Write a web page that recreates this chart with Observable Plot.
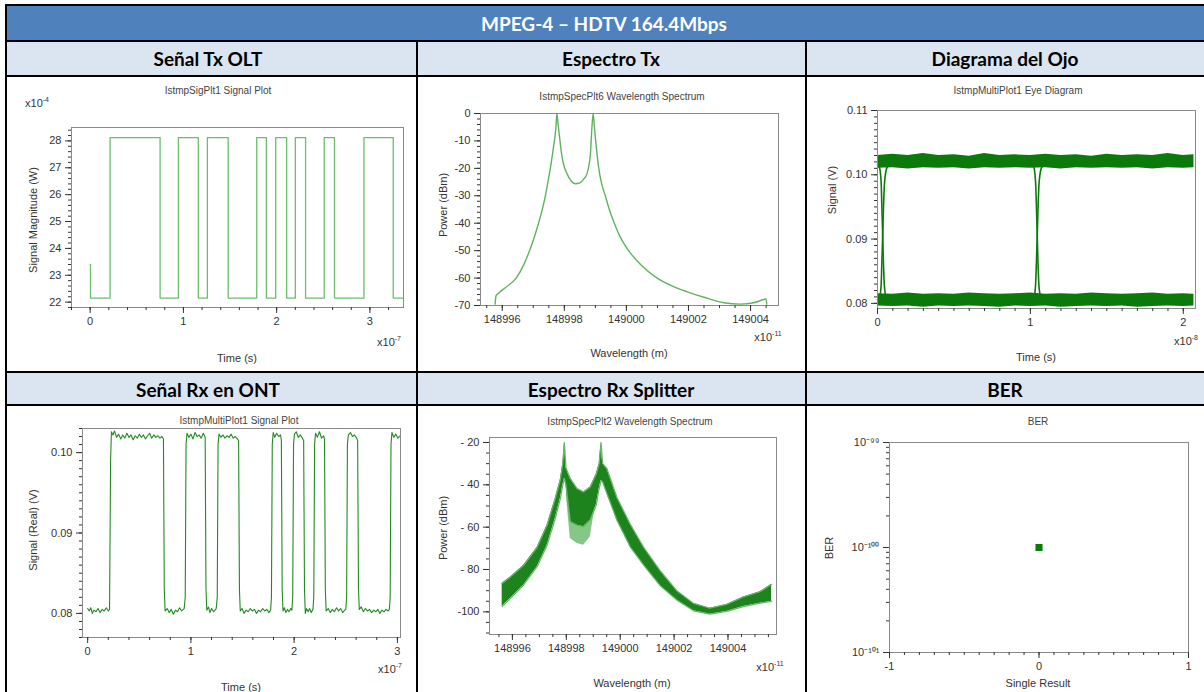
<!DOCTYPE html>
<html><head><meta charset="utf-8">
<script src="https://cdn.jsdelivr.net/npm/d3@7"></script>
<script src="https://cdn.jsdelivr.net/npm/@observablehq/plot@0.6"></script>
<style>
body{margin:0;background:#fff;}
#page{position:relative;width:1204px;height:692px;overflow:hidden;background:#fff;font-family:"Liberation Sans",Arial,sans-serif;}
.box{position:absolute;}
.ln{position:absolute;background:#000;}
.t{position:absolute;white-space:nowrap;color:#333;font-size:11px;line-height:1;}
.t sup{font-size:7px;vertical-align:5px;line-height:0;}
.ct{font-size:10px;color:#444;}
.hd{font-family:Lato,"Open Sans",sans-serif;font-weight:700;font-size:19px;color:#000;}
.ttl{font-family:Lato,"Open Sans",sans-serif;font-weight:700;font-size:19px;color:#fff;}
</style></head>
<body><div id="page"></div>
<script>
// ---------- DATA ----------
const mainTitle = "MPEG-4 – HDTV 164.4Mbps";
const headers = ["Señal Tx OLT","Espectro Tx","Diagrama del Ojo","Señal Rx en ONT","Espectro Rx Splitter","BER"];
const chartTitles = ["IstmpSigPlt1 Signal Plot","IstmpSpecPlt6 Wavelength Spectrum","IstmpMultiPlot1 Eye Diagram","IstmpMultiPlot1 Signal Plot","IstmpSpecPlt2 Wavelength Spectrum","BER"];

// Panel 1: Tx signal (time x1e-7 s, magnitude x1e-4 W), step-after
const txTime  = [0, 0.004, 0.214, 0.75, 0.946, 1.16, 1.257, 1.48, 1.786, 1.89, 1.99, 2.107, 2.2, 2.31, 2.51, 2.62, 2.936, 3.25, 3.35];
const txLevel = [23.4, 22.15, 28.12, 22.15, 28.12, 22.15, 28.12, 22.15, 28.12, 22.15, 28.12, 22.15, 28.12, 22.15, 28.12, 22.15, 28.12, 22.15, 22.15];
const txXTicks = [0, 1, 2, 3];
const txYTicks = [22, 23, 24, 25, 26, 27, 28];

// Panel 2: Tx spectrum (wavelength x1e-11 m, dBm)
const specTxWl = [148995.77,148995.80,148995.88,148996.10,148996.45,148996.70,148996.88,148997.05,148997.17,148997.30,148997.39,148997.48,148997.55,148997.63,148997.68,148997.73,148997.76,148997.80,148997.84,148997.93,148998.00,148998.09,148998.20,148998.35,148998.50,148998.62,148998.73,148998.80,148998.84,148998.89,148998.93,148998.97,148999.01,148999.11,148999.20,148999.32,148999.45,148999.61,148999.80,149000.07,149000.50,149000.99,149001.50,149001.96,149002.50,149003.14,149003.68,149004.10,149004.43,149004.50,149004.52];
const specTxDbm = [-69.5,-66.5,-65.5,-63.5,-60,-55,-50,-44.5,-40,-34.5,-30,-24.5,-20,-14,-10,-5,0,-4,-8,-16,-19.5,-22,-24.3,-25.6,-25.3,-24,-22,-18.5,-15,-5,0,-5,-10,-20,-25.5,-30,-35,-40,-45,-50,-55.5,-60,-63,-65,-67,-69,-69.5,-69,-67.8,-67.6,-69.5];
const wlTicks = [148996, 148998, 149000, 149002, 149004];
const specTxYTicks = [-70, -60, -50, -40, -30, -20, -10, 0];

// Panel 3: Eye diagram (time x1e-8 s, V)
const eyeT   = [0.00,0.10,0.20,0.30,0.40,0.50,0.60,0.70,0.80,0.90,1.00,1.10,1.20,1.30,1.40,1.50,1.60,1.70,1.80,1.90,2.00,2.07];
const eyeHiTop = [0.1030,0.1032,0.1030,0.1033,0.1030,0.1031,0.1029,0.1033,0.1030,0.1031,0.1030,0.1032,0.1030,0.1031,0.1029,0.1032,0.1030,0.1031,0.1030,0.1033,0.1030,0.1031];
const eyeHiBot = [0.1010,0.1011,0.1009,0.1011,0.1010,0.1011,0.1009,0.1011,0.1010,0.1011,0.1010,0.1011,0.1009,0.1011,0.1010,0.1011,0.1010,0.1011,0.1009,0.1011,0.1010,0.1011];
const eyeLoTop = [0.0815,0.0814,0.0816,0.0814,0.0815,0.0814,0.0816,0.0815,0.0814,0.0815,0.0816,0.0814,0.0815,0.0814,0.0816,0.0815,0.0814,0.0815,0.0816,0.0814,0.0815,0.0814];
const eyeLoBot = [0.0796,0.0795,0.0796,0.0794,0.0796,0.0795,0.0796,0.0795,0.0794,0.0796,0.0795,0.0796,0.0794,0.0795,0.0796,0.0795,0.0796,0.0794,0.0795,0.0796,0.0795,0.0796];
const eyeFall1T = [0.000,0.012,0.022,0.028,0.034,0.040,0.048,0.060,0.075];
const eyeFall1V = [0.1016,0.1012,0.0995,0.0955,0.0905,0.0855,0.0820,0.0808,0.0806];
const eyeRise1T = [0.000,0.012,0.022,0.028,0.034,0.040,0.048,0.060,0.075];
const eyeRise1V = [0.0806,0.0808,0.0823,0.0860,0.0905,0.0955,0.0993,0.1010,0.1016];
const eyeFall2T = [1.007,1.022,1.032,1.039,1.045,1.051,1.059,1.071,1.087];
const eyeFall2V = [0.1016,0.1012,0.0995,0.0955,0.0905,0.0855,0.0820,0.0808,0.0806];
const eyeRise2T = [1.007,1.022,1.032,1.039,1.045,1.051,1.059,1.071,1.087];
const eyeRise2V = [0.0806,0.0808,0.0823,0.0860,0.0905,0.0955,0.0993,0.1010,0.1016];
const eyeXTicks = [0, 1, 2];
const eyeYTicks = [0.08, 0.09, 0.10, 0.11];

// Panel 4: Rx signal (time x1e-7 s, V)
const rxT = [0.000,0.015,0.030,0.045,0.060,0.080,0.100,0.120,0.140,0.160,0.180,0.200,0.212,0.222,0.230,0.245,0.260,0.280,0.300,0.320,0.340,0.360,0.380,0.400,0.420,0.440,0.460,0.480,0.500,0.520,0.540,0.560,0.580,0.600,0.620,0.640,0.660,0.680,0.700,0.720,0.734,0.742,0.750,0.770,0.790,0.810,0.830,0.850,0.870,0.890,0.910,0.935,0.945,0.953,0.962,0.980,1.000,1.020,1.040,1.060,1.080,1.100,1.120,1.138,1.146,1.154,1.170,1.185,1.200,1.220,1.245,1.255,1.263,1.272,1.290,1.310,1.330,1.350,1.370,1.390,1.410,1.430,1.450,1.462,1.470,1.478,1.495,1.515,1.535,1.555,1.575,1.595,1.615,1.635,1.655,1.675,1.695,1.715,1.735,1.755,1.772,1.780,1.788,1.797,1.812,1.830,1.850,1.868,1.876,1.884,1.892,1.905,1.920,1.935,1.950,1.968,1.978,1.986,1.994,2.003,2.020,2.040,2.060,2.080,2.092,2.100,2.108,2.120,2.135,2.150,2.165,2.182,2.190,2.198,2.207,2.225,2.245,2.265,2.285,2.294,2.302,2.310,2.330,2.350,2.370,2.390,2.410,2.430,2.450,2.470,2.490,2.500,2.508,2.516,2.525,2.545,2.565,2.585,2.605,2.615,2.623,2.631,2.650,2.670,2.690,2.710,2.730,2.750,2.770,2.790,2.810,2.830,2.850,2.870,2.890,2.910,2.922,2.930,2.938,2.947,2.965,2.985,3.005,3.025];
const rxV = [0.0806,0.0803,0.0807,0.0800,0.0804,0.0802,0.0806,0.0801,0.0805,0.0803,0.0807,0.0803,0.0805,0.0990,0.1026,0.1022,0.1027,0.1019,0.1023,0.1017,0.1022,0.1018,0.1024,0.1019,0.1022,0.1016,0.1021,0.1018,0.1023,0.1019,0.1022,0.1017,0.1021,0.1024,0.1018,0.1022,0.1019,0.1021,0.1018,0.1020,0.1017,0.0830,0.0803,0.0806,0.0801,0.0805,0.0799,0.0804,0.0802,0.0807,0.0803,0.0806,0.0820,0.1010,0.1024,0.1019,0.1023,0.1017,0.1025,0.1020,0.1022,0.1018,0.1024,0.1019,0.0830,0.0804,0.0808,0.0801,0.0806,0.0802,0.0806,0.0820,0.1010,0.1023,0.1019,0.1022,0.1018,0.1021,0.1019,0.1023,0.1018,0.1020,0.1017,0.1015,0.0830,0.0803,0.0806,0.0800,0.0804,0.0802,0.0806,0.0803,0.0805,0.0800,0.0804,0.0802,0.0806,0.0803,0.0805,0.0801,0.0804,0.0820,0.1010,0.1025,0.1019,0.1024,0.1020,0.1022,0.1015,0.0830,0.0803,0.0807,0.0801,0.0805,0.0802,0.0806,0.0804,0.0820,0.1010,0.1023,0.1026,0.1019,0.1022,0.1018,0.1015,0.0830,0.0800,0.0806,0.0802,0.0806,0.0801,0.0805,0.0820,0.1010,0.1024,0.1019,0.1026,0.1018,0.1021,0.1016,0.0830,0.0803,0.0806,0.0801,0.0805,0.0802,0.0807,0.0803,0.0806,0.0801,0.0804,0.0805,0.0820,0.1010,0.1022,0.1025,0.1020,0.1022,0.1018,0.1015,0.0830,0.0805,0.0808,0.0802,0.0806,0.0803,0.0805,0.0801,0.0804,0.0802,0.0805,0.0800,0.0804,0.0802,0.0805,0.0803,0.0805,0.0820,0.1010,0.1025,0.1019,0.1023,0.1018,0.1021];
const rxXTicks = [0, 1, 2, 3];
const rxYTicks = [0.08, 0.09, 0.10];

// Panel 5: Rx spectrum noisy band envelopes (wavelength x1e-11 m, dBm)
const specRxWl = [148995.62,148995.93,148996.42,148996.92,148997.29,148997.59,148997.78,148997.87,148997.93,148997.99,148998.15,148998.40,148998.64,148998.89,148999.11,148999.22,148999.29,148999.35,148999.51,148999.88,149000.37,149000.87,149001.48,149002.10,149002.72,149003.33,149003.95,149004.57,149005.19,149005.62];
const specRxUp = [-86.5,-83.5,-78.0,-69.5,-59.0,-46.5,-37.5,-30.0,-20.0,-32.0,-37.1,-41.8,-43.4,-41.0,-35.0,-30.0,-20.0,-30.0,-32.4,-46.0,-58.5,-69.5,-80.5,-90.0,-96.0,-98.3,-96.5,-93.0,-90.5,-87.0];
const specRxLo = [-97.5,-93.6,-87.3,-78.7,-68.5,-55.9,-46.5,-40.2,-37.0,-40.2,-57.5,-59.1,-59.8,-56.7,-49.6,-41.8,-38.0,-38.7,-44.2,-56.7,-69.3,-77.9,-87.6,-94.4,-99.5,-101.1,-99.8,-97.5,-95.9,-95.1];
const specRxMidWl = [148998.00,148998.15,148998.40,148998.64,148998.89,148999.05];
const specRxMidHi = [-40.2,-57.5,-59.1,-59.8,-56.7,-47.0];
const specRxMidLo = [-45.0,-65.3,-67.7,-68.5,-64.6,-52.0];
const specRxYTicks = [-100, -80, -60, -40, -20];

// Panel 6: BER
const berResult = [0];
const berValue = [1e-100];
const berXTicks = [-1, 0, 1];
const berYTicks = [1e-101, 1e-100, 1e-99];
const berYLabels = ["10⁻¹⁰¹", "10⁻¹⁰⁰", "10⁻⁹⁹"];

// ---------- LAYOUT ----------
const page = document.getElementById("page");
function box(x, y, w, h, bg) { const d = document.createElement("div"); d.className = "box"; Object.assign(d.style, {left:x+"px", top:y+"px", width:w+"px", height:h+"px", background:bg}); page.appendChild(d); return d; }
function ln(x, y, w, h) { const d = box(x, y, w, h, "#000"); d.className = "ln"; }
function txt(x, y, html, cls, rot) {
  const d = document.createElement("div"); d.className = "t " + (cls || "");
  d.style.left = x + "px"; d.style.top = y + "px"; d.innerHTML = html;
  d.style.transform = "translate(-50%,-50%)" + (rot ? " rotate(-90deg)" : "");
  page.appendChild(d);
}
// table
box(5, 5, 1199, 36, "#4f81bd");
box(5, 41, 1199, 35, "#dbe5f1");
box(5, 372, 1199, 33, "#dbe5f1");
ln(5, 4, 1199, 2); ln(5, 40, 1199, 2); ln(5, 75, 1199, 2); ln(5, 371, 1199, 2); ln(5, 404, 1199, 2);
ln(5, 4, 2, 688); ln(416, 40, 2, 652); ln(805, 40, 2, 652);
txt(604, 23, mainTitle, "ttl");
const colC = [208, 611, 1005];
headers.forEach((h, i) => txt(colC[i % 3], i < 3 ? 58 : 389, h, "hd"));

// ---------- PLOTS ----------
const fmt = d => String(d);
function panel(f, o) {
  const mL = 70, mR = 20, mT = 10, mB = 30;
  const axisCommon = {color: "#333", fontSize: 11, label: null};
  const marks = [
    ...o.marks,
    Plot.frame({stroke: "#8a8a8a"}),
    Plot.axisX({...axisCommon, ticks: o.xMinor, tickSize: 3, tickFormat: () => ""}),
    Plot.axisY({...axisCommon, ticks: o.yMinor, tickSize: 3, tickFormat: () => ""}),
    Plot.axisX({...axisCommon, ticks: o.xTicks, tickSize: 6, tickPadding: 4, tickFormat: o.xFmt || fmt}),
    Plot.axisY({...axisCommon, ticks: o.yTicks, tickSize: 6, tickPadding: 4, tickFormat: o.yFmt || fmt})
  ];
  const svg = Plot.plot({
    width: f.R - f.L + mL + mR, height: f.B - f.T + mT + mB,
    marginLeft: mL, marginRight: mR, marginTop: mT, marginBottom: mB,
    x: {domain: o.xd, label: null},
    y: {domain: o.yd, type: o.yType || "linear", label: null},
    style: {background: "transparent", fontFamily: "Liberation Sans, Arial, sans-serif", fontSize: "11px", overflow: "visible"},
    marks
  });
  svg.style.position = "absolute";
  svg.style.maxWidth = "none";
  svg.style.left = (f.L - mL) + "px"; svg.style.top = (f.T - mT) + "px";
  page.appendChild(svg);
}

// Panel 1
const txData = txTime.map((t, i) => ({t, v: txLevel[i]}));
panel({L:71, R:403, T:127, B:307}, {
  xd: [-0.2, 3.36], yd: [21.8, 28.5],
  xTicks: txXTicks, yTicks: txYTicks,
  xMinor: d3.range(-0.2, 3.3, 0.2), yMinor: d3.range(21.8, 28.5, 0.2),
  marks: [Plot.line(txData, {x: "t", y: "v", curve: "step-after", stroke: "#6cbd6c", strokeWidth: 1.3, clip: true})]
});
// Panel 2
const specTx = specTxWl.map((w, i) => ({w, p: specTxDbm[i]}));
panel({L:480, R:778, T:113, B:305}, {
  xd: [148995.3, 149004.9], yd: [-70, 0],
  xTicks: wlTicks, yTicks: specTxYTicks,
  xMinor: d3.range(148995.5, 149005, 0.5), yMinor: d3.range(-70, 1, 2),
  marks: [Plot.line(specTx, {x: "w", y: "p", stroke: "#5fb35f", strokeWidth: 1.4, curve: "monotone-x"})]
});
// Panel 3
const eyeBand = eyeT.map((t, i) => ({t, ht: eyeHiTop[i], hb: eyeHiBot[i], lt: eyeLoTop[i], lb: eyeLoBot[i]}));
const tr = (T, V) => T.map((t, i) => ({t, v: V[i]}));
const eyeGreen = "#0b7a0b";
panel({L:877, R:1195, T:110, B:308}, {
  xd: [0, 2.08], yd: [0.0792, 0.11],
  xTicks: eyeXTicks, yTicks: eyeYTicks, yFmt: d => d.toFixed(2),
  xMinor: d3.range(0, 2.08, 0.1), yMinor: d3.range(0.080, 0.1101, 0.001),
  marks: [
    Plot.areaY(eyeBand, {x: "t", y1: "hb", y2: "ht", fill: eyeGreen}),
    Plot.areaY(eyeBand, {x: "t", y1: "lb", y2: "lt", fill: eyeGreen}),
    Plot.line(tr(eyeFall1T, eyeFall1V), {x: "t", y: "v", stroke: eyeGreen, strokeWidth: 1.6, curve: "catmull-rom"}),
    Plot.line(tr(eyeRise1T, eyeRise1V), {x: "t", y: "v", stroke: eyeGreen, strokeWidth: 1.6, curve: "catmull-rom"}),
    Plot.line(tr(eyeFall2T, eyeFall2V), {x: "t", y: "v", stroke: eyeGreen, strokeWidth: 1.6, curve: "catmull-rom"}),
    Plot.line(tr(eyeRise2T, eyeRise2V), {x: "t", y: "v", stroke: eyeGreen, strokeWidth: 1.6, curve: "catmull-rom"})
  ]
});
// Panel 4
panel({L:82, R:400, T:428, B:637}, {
  xd: [-0.05, 3.03], yd: [0.0770, 0.1030],
  xTicks: rxXTicks, yTicks: rxYTicks, yFmt: d => d.toFixed(2),
  xMinor: d3.range(0, 3.03, 0.2), yMinor: d3.range(0.077, 0.1031, 0.001),
  marks: [Plot.line(tr(rxT, rxV), {x: "t", y: "v", stroke: "#228a22", strokeWidth: 1.1})]
});
// Panel 5
const specRx = specRxWl.map((w, i) => ({w, up: specRxUp[i], lo: specRxLo[i]}));
const specRxMid = specRxMidWl.map((w, i) => ({w, hi: specRxMidHi[i], lo: specRxMidLo[i]}));
panel({L:489, R:776, T:437, B:634}, {
  xd: [148995.15, 149005.8], yd: [-110.7, -17.65],
  xTicks: wlTicks, yTicks: specRxYTicks,
  yFmt: d => d > -100 ? "- " + Math.abs(d) : String(d),
  xMinor: d3.range(148995.5, 149005.8, 0.5), yMinor: d3.range(-110, -17, 5),
  marks: [
    Plot.areaY(specRxMid, {x: "w", y1: "lo", y2: "hi", fill: "#86c686"}),
    Plot.areaY(specRx, {x: "w", y1: "lo", y2: "up", fill: "#1d841d"}),
    Plot.line(specRx, {x: "w", y: "up", stroke: "#6ab56a", strokeWidth: 1.2}),
    Plot.line(specRx, {x: "w", y: "lo", stroke: "#6ab56a", strokeWidth: 1.2})
  ]
});
// Panel 6
const ber = berResult.map((r, i) => ({r, b: berValue[i]}));
panel({L:889, R:1188, T:442, B:652}, {
  xd: [-1, 1], yd: [1e-101, 1e-99], yType: "log",
  xTicks: berXTicks, yTicks: berYTicks, yFmt: d => berYLabels[berYTicks.findIndex(v => Math.abs(Math.log10(v) - Math.log10(d)) < 1e-6)],
  xMinor: d3.range(-1, 1.01, 0.1),
  yMinor: [...d3.range(2, 10).map(k => k * 1e-101), ...d3.range(2, 10).map(k => k * 1e-100)],
  marks: [Plot.dot(ber, {x: "r", y: "b", symbol: "square", fill: "#0a7a0a", r: 4})]
});

// ---------- TEXTS ----------
const titlePos = [[218, 91], [622, 97], [1018, 91], [239, 421], [630, 422], [1038, 422]];
chartTitles.forEach((s, i) => txt(titlePos[i][0], titlePos[i][1], s, "ct"));
txt(37, 103, "x10<sup>-4</sup>");
txt(33, 220, "Signal Magnitude (W)", "", true);
txt(389, 342, "x10<sup>-7</sup>");
txt(237, 358, "Time (s)");
txt(443, 205, "Power (dBm)", "", true);
txt(768, 337, "x10<sup>-11</sup>");
txt(629, 353, "Wavelength (m)");
txt(832, 190, "Signal (V)", "", true);
txt(1186, 341, "x10<sup>-8</sup>");
txt(1036, 357, "Time (s)");
txt(33, 530, "Signal (Real) (V)", "", true);
txt(390, 669, "x10<sup>-7</sup>");
txt(241, 687, "Time (s)");
txt(443, 528, "Power (dBm)", "", true);
txt(770, 667, "x10<sup>-11</sup>");
txt(632, 683, "Wavelength (m)");
txt(829, 548, "BER", "", true);
txt(1038, 683, "Single Result");
</script></body></html>
